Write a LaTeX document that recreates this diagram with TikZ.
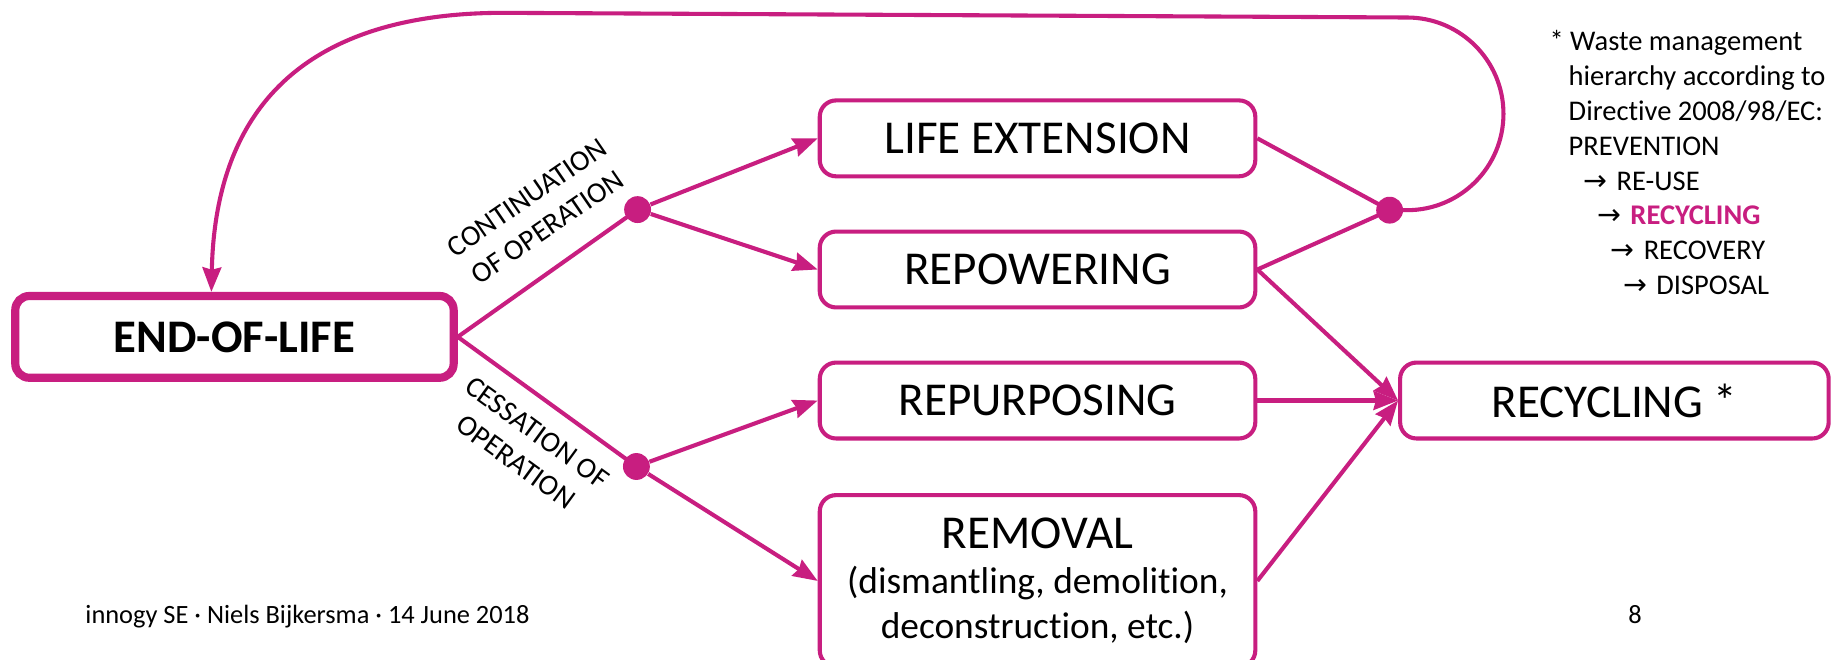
\documentclass[tikz,border=0pt]{standalone}
\usepackage{fontspec}
\setmainfont{Carlito}[Ligatures=NoCommon]
\newfontfamily\arrowfont{DejaVu Sans}
\usetikzlibrary{arrows.meta}
\definecolor{mag}{RGB}{200,30,128}
\begin{document}
\begin{tikzpicture}[x=0.5pt,y=-0.5pt,
  box/.style={draw=mag, line width=1.75pt, rounded corners=7pt, fill=white,
    minimum width=186.5pt, minimum height=32.5pt, inner sep=0pt, align=center,
    font=\fontsize{20.2pt}{19.25pt}\selectfont},
  eolbox/.style={draw=mag, line width=3.5pt, rounded corners=6pt, fill=white,
    minimum width=187.7pt, minimum height=35pt, inner sep=0pt,
    font=\bfseries\fontsize{20pt}{24pt}\selectfont},
  junction/.style={circle, fill=mag, minimum size=11.5pt, inner sep=0pt},
  conn/.style={draw=mag, line width=1.75pt},
  arr/.style={conn, -{Stealth[length=10.5pt,width=8pt,inset=1pt]}},
  lbl/.style={font=\fontsize{12.5pt}{15.5pt}\selectfont, align=center, inner sep=0pt},
  note/.style={font=\fontsize{12.2pt}{14.98pt}\selectfont, align=left, inner sep=0pt, anchor=base west},
  foot/.style={font=\fontsize{11.3pt}{13.6pt}\selectfont, inner sep=0pt, anchor=base west},
  subtext/.style={}]
\path[fill=white, use as bounding box] (0,0) rectangle (1568,565);

% boxes
\node[eolbox] (eol) at (200.8,288.5) {END-OF-LIFE};
\node[box] (life) at (888.5,118.5) {LIFE EXTENSION};
\node[box] (repow) at (888.5,230.8) {REPOWERING};
\node[box] (repurp) at (888.5,343) {REPURPOSING};
\node[box, minimum height=73.5pt] (removal) at (888.5,497.5)
  {REMOVAL\\{\fontsize{16pt}{19.25pt}\selectfont (dismantling, demolition,}\\{\fontsize{16pt}{19.25pt}\selectfont deconstruction, etc.)}};
\node[box, minimum width=183.5pt] (recyc) at (1382.5,343) {RECYCLING *};

% junctions
\node[junction] (j1) at (546,179.5) {};
\node[junction] (j2) at (545,399.5) {};
\node[junction] (j3) at (1190,180) {};

\coordinate (tl) at (431,11);
\coordinate (eolin) at ([xshift=-9.9pt]eol.north);

% connectors
\draw[conn] (eol.east) -- (j1.center);
\draw[conn] (eol.east) -- (j2.center);
\draw[arr] (j1) -- (life.west);
\draw[arr] (j1) -- (repow.west);
\draw[arr] (j2) -- (repurp.west);
\draw[arr] (j2) -- (removal.west);
\draw[conn] (life.east) -- (j3.center);
\draw[conn] (repow.east) -- (j3.center);
\draw[arr] (repow.east) -- (recyc.west);
\draw[arr] (repurp.east) -- (recyc.west);
\draw[arr] (removal.east) -- (recyc.west);
\draw[arr] (j3.center) -- ++(15,0) arc[start angle=90, end angle=-90, radius=82.5]
  -- (tl) .. controls (300,11) and (185,60) .. (eolin);

% labels
\node[lbl, rotate=34.5] (lcont) at (460,182) {CONTINUATION\\OF OPERATION};
\node[lbl, rotate=-36] (lcess) at (451,383) {CESSATION OF\\OPERATION};

% note
\node[note] (nt) at (1326.6,252.6) {* Waste management\\
\hspace*{8.2pt}hierarchy according to\\
\hspace*{8.2pt}Directive 2008/98/EC:\\
\hspace*{8.2pt}PREVENTION\\
\hspace*{14.5pt}{\arrowfont →}\hspace{4pt}RE-USE\\
\hspace*{20.4pt}{\arrowfont →}\hspace{4pt}{\color{mag}\bfseries RECYCLING}\\
\hspace*{26.1pt}{\arrowfont →}\hspace{4pt}RECOVERY\\
\hspace*{31.5pt}{\arrowfont →}\hspace{4pt}DISPOSAL};

% footer
\node[foot] (ft) at (72.8,533.6) {innogy SE · Niels Bijkersma · 14 June 2018};
\node[foot] (pg) at (1394,533.7) {8};
\end{tikzpicture}
\end{document}
